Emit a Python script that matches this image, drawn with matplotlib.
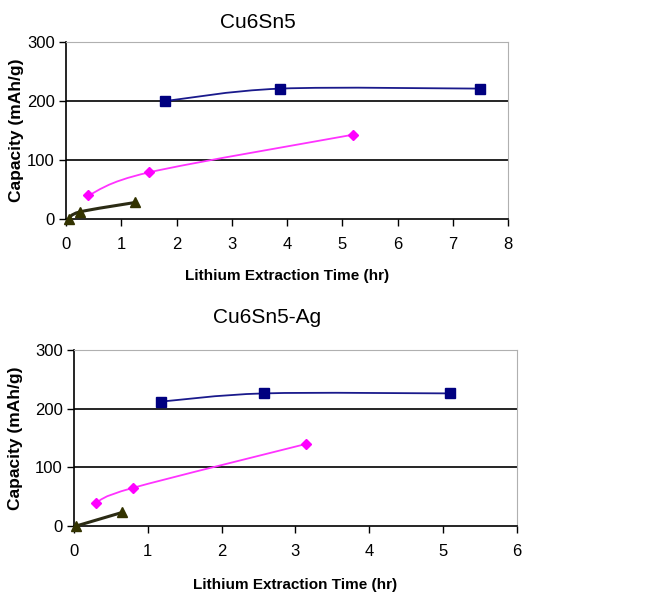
import matplotlib
matplotlib.use('Agg')
import matplotlib.pyplot as plt
from matplotlib.path import Path
from matplotlib.patches import PathPatch

plt.rcParams['font.family'] = ['Liberation Sans', 'DejaVu Sans']

# --- data ---
titles = ['Cu6Sn5', 'Cu6Sn5-Ag']
xmax = [8, 6]

# Cu6Sn5
top_blue_x = [1.8, 3.88, 7.5]
top_blue_y = [200, 221, 221]
top_pink_x = [0.4, 1.5, 5.2]
top_pink_y = [40, 79, 143]
top_dark_x = [0.05, 0.25, 1.25]
top_dark_y = [0, 12, 28]

# Cu6Sn5-Ag
bot_blue_x = [1.18, 2.58, 5.1]
bot_blue_y = [212, 226, 226]
bot_pink_x = [0.3, 0.8, 3.15]
bot_pink_y = [40, 65, 140]
bot_dark_x = [0.03, 0.65]
bot_dark_y = [0, 23]

series = [
    [(top_blue_x, top_blue_y), (top_pink_x, top_pink_y), (top_dark_x, top_dark_y)],
    [(bot_blue_x, bot_blue_y), (bot_pink_x, bot_pink_y), (bot_dark_x, bot_dark_y)],
]
styles = [
    dict(line='#1a1a8c', marker='s', mc='#000080', ms=6.5, lw=1.3),
    dict(line='#ff33ff', marker='D', mc='#ff00ff', ms=5, lw=1.3),
    dict(line='#2b2b14', marker='^', mc='#333300', ms=7.5, lw=2.2),
]


def smooth_path(xs, ys):
    # Excel-style smoothed line: cubic bezier through the points
    pts = list(zip(xs, ys))
    n = len(pts)
    verts = [pts[0]]
    codes = [Path.MOVETO]
    for i in range(n - 1):
        p0 = pts[i - 1] if i > 0 else pts[i]
        p1 = pts[i]
        p2 = pts[i + 1]
        p3 = pts[i + 2] if i + 2 < n else pts[i + 1]
        c1 = (p1[0] + (p2[0] - p0[0]) / 6.0, p1[1] + (p2[1] - p0[1]) / 6.0)
        c2 = (p2[0] - (p3[0] - p1[0]) / 6.0, p2[1] - (p3[1] - p1[1]) / 6.0)
        verts += [c1, c2, p2]
        codes += [Path.CURVE4] * 3
    return Path(verts, codes)


fig = plt.figure(figsize=(6.57, 5.94), dpi=100)
rects = [[0.1005, 0.6313, 0.6728, 0.298], [0.1126, 0.1145, 0.674, 0.2963]]
title_pos = [(0.3927, 0.962), (0.4064, 0.466)]
ylab_x = [-0.113, -0.131]
xlab_y = [-0.322, -0.335]

for k in range(2):
    ax = fig.add_axes(rects[k])
    for (xs, ys), st in zip(series[k], styles):
        ax.add_patch(PathPatch(smooth_path(xs, ys), fill=False,
                               edgecolor=st['line'], lw=st['lw'], zorder=3))
        ax.plot(xs, ys, linestyle='none', marker=st['marker'], color=st['mc'],
                markersize=st['ms'], zorder=4, clip_on=False)
    ax.set_xlim(0, xmax[k])
    ax.set_ylim(0, 300)
    ax.set_xticks(range(0, xmax[k] + 1))
    ax.set_yticks([0, 100, 200, 300])
    for yv in [100, 200]:
        ax.axhline(yv, color='black', lw=1.2, zorder=1)
    ax.spines['left'].set_color('black')
    ax.spines['bottom'].set_color('black')
    ax.spines['left'].set_linewidth(1.2)
    ax.spines['bottom'].set_linewidth(1.2)
    ax.spines['top'].set_color('#b0b0b0')
    ax.spines['right'].set_color('#b0b0b0')
    ax.tick_params(axis='both', direction='out', length=5, width=1.0,
                   labelsize=12, pad=3)
    ax.tick_params(axis='x', pad=8)
    ax.set_xlabel('Lithium Extraction Time (hr)', fontsize=11,
                  fontweight='bold', va='center')
    ax.xaxis.set_label_coords(0.5, xlab_y[k])
    ax.set_ylabel('Capacity (mAh/g)', fontsize=12.5, fontweight='bold',
                  va='center')
    ax.yaxis.set_label_coords(ylab_x[k], 0.5)
    fig.text(title_pos[k][0], title_pos[k][1], titles[k],
             ha='center', va='center', fontsize=15)

fig.savefig('out.png', dpi=100)
